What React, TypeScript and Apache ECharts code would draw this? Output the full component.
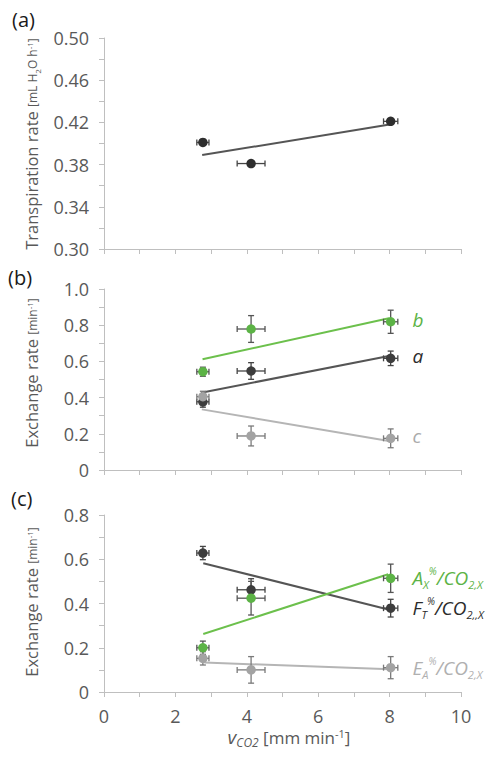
import React, { useEffect, useRef } from 'react';
import * as echarts from 'echarts';

// ---------- data ----------
const xTicks = [0, 2, 4, 6, 8, 10];
const vCO2 = [2.77, 4.12, 8.03];
const vCO2Err = [0.17, 0.39, 0.2];

// (a) transpiration rate
const transpiration = [0.401, 0.381, 0.421];
const transpirationErr = [0, 0, 0];
const transpirationTrend = [[2.75, 0.389], [8.0, 0.418]];
const transpirationBase = 0.3;

// (b) exchange rates a, b, c
const rateA = [0.377, 0.547, 0.617];
const rateAErr = [0.03, 0.046, 0.04];
const rateB = [0.543, 0.779, 0.819];
const rateBErr = [0.025, 0.074, 0.064];
const rateC = [0.405, 0.188, 0.175];
const rateCErr = [0.03, 0.055, 0.052];
const trendA = [[2.72, 0.427], [7.98, 0.63]];
const trendB = [[2.76, 0.612], [7.98, 0.838]];
const trendC = [[2.74, 0.335], [7.98, 0.16]];

// (c) exchange-rate ratios
const ratioAX = [0.2, 0.424, 0.514];
const ratioAXErr = [0.03, 0.076, 0.064];
const ratioFT = [0.628, 0.462, 0.379];
const ratioFTErr = [0.03, 0.05, 0.04];
const ratioEA = [0.152, 0.1, 0.11];
const ratioEAErr = [0.03, 0.06, 0.05];
const trendAX = [[2.78, 0.262], [7.96, 0.532]];
const trendFT = [[2.78, 0.582], [8.02, 0.371]];
const trendEA = [[2.81, 0.133], [8.02, 0.103]];

// ---------- styles ----------
const FONT = 'Open Sans';
const AXIS = '#bfbfbf';
const TXT = '#595959';
const DARK = '#3d3d3d';
const GREEN = '#5cb346';
const GREY = '#a3a3a3';

function errorSeries(gi: number, ys: number[], yErr: number[], color: string) {
  return {
    type: 'custom',
    xAxisIndex: gi,
    yAxisIndex: gi,
    z: 3,
    silent: true,
    encode: { x: 0, y: 1 },
    data: vCO2.map((x, i) => [x, ys[i], vCO2Err[i], yErr[i]]),
    renderItem: (params: any, api: any) => {
      const x = api.value(0), y = api.value(1), dx = api.value(2), dy = api.value(3);
      const c = api.coord([x, y]);
      const l = api.coord([x - dx, y]);
      const r = api.coord([x + dx, y]);
      const cap = 3;
      const st = { stroke: color, lineWidth: 1.3 };
      const children: any[] = [
        { type: 'line', shape: { x1: l[0], y1: c[1], x2: r[0], y2: c[1] }, style: st },
        { type: 'line', shape: { x1: l[0], y1: c[1] - cap, x2: l[0], y2: c[1] + cap }, style: st },
        { type: 'line', shape: { x1: r[0], y1: c[1] - cap, x2: r[0], y2: c[1] + cap }, style: st },
      ];
      if (dy > 0) {
        const t = api.coord([x, y + dy]);
        const b = api.coord([x, y - dy]);
        children.push(
          { type: 'line', shape: { x1: c[0], y1: t[1], x2: c[0], y2: b[1] }, style: st },
          { type: 'line', shape: { x1: c[0] - cap, y1: t[1], x2: c[0] + cap, y2: t[1] }, style: st },
          { type: 'line', shape: { x1: c[0] - cap, y1: b[1], x2: c[0] + cap, y2: b[1] }, style: st },
        );
      }
      return { type: 'group', children };
    },
  };
}

function pointSeries(gi: number, ys: number[], color: string, label?: any) {
  return {
    type: 'scatter',
    xAxisIndex: gi,
    yAxisIndex: gi,
    z: 4,
    symbol: 'circle',
    symbolSize: 9.5,
    itemStyle: { color, opacity: 1 },
    data: vCO2.map((x, i) =>
      label && i === vCO2.length - 1 ? { value: [x, ys[i]], label } : [x, ys[i]]
    ),
  };
}

function trendSeries(gi: number, pts: number[][], color: string) {
  return {
    type: 'line',
    xAxisIndex: gi,
    yAxisIndex: gi,
    z: 2,
    silent: true,
    showSymbol: false,
    symbol: 'none',
    lineStyle: { color, width: 2 },
    data: pts,
  };
}

const simpleLabel = (text: string, color: string) => ({
  show: true,
  position: 'right',
  distance: 17,
  formatter: text,
  color,
  fontFamily: FONT,
  fontStyle: 'italic',
  fontSize: 19,
  offset: [0, -2],
});

const ratioRich = (color: string) => ({
  m: { color, fontFamily: FONT, fontStyle: 'italic', fontSize: 19, lineHeight: 24, verticalAlign: 'middle' },
  sb: { color, fontFamily: FONT, fontStyle: 'italic', fontSize: 11, lineHeight: 11, verticalAlign: 'bottom' },
  sp: { color, fontFamily: FONT, fontStyle: 'italic', fontSize: 10, lineHeight: 14, verticalAlign: 'top' },
});

const ratioLabel = (main: string, sub: string, color: string, tail: string) => ({
  show: true,
  position: 'right',
  distance: 17,
  formatter: `{m|${main}}{sb|${sub}}{sp|%}{m|/CO}{sb|${tail}}`,
  rich: ratioRich(color),
});

function xAxisCfg(gi: number, showLabels: boolean) {
  return {
    type: 'value',
    gridIndex: gi,
    min: xTicks[0],
    max: xTicks[xTicks.length - 1],
    interval: xTicks[1] - xTicks[0],
    axisLine: { show: true, lineStyle: { color: AXIS, width: 1 } },
    axisTick: { show: true, length: 5, lineStyle: { color: AXIS } },
    minorTick: { show: true, splitNumber: 2, length: 5, lineStyle: { color: AXIS } },
    splitLine: { show: false },
    axisLabel: { show: showLabels, color: TXT, fontFamily: FONT, fontSize: 18, margin: 15 },
  };
}

function yAxisCfg(gi: number, max: number, interval: number, fmt: (v: number) => string) {
  return {
    type: 'value',
    gridIndex: gi,
    min: 0,
    max,
    interval,
    axisLine: { show: true, lineStyle: { color: AXIS, width: 1 } },
    axisTick: { show: true, length: 5, lineStyle: { color: AXIS } },
    minorTick: { show: true, splitNumber: 2, length: 5, lineStyle: { color: AXIS } },
    splitLine: { show: false },
    axisLabel: { color: TXT, fontFamily: FONT, fontSize: 18, margin: 15, formatter: fmt },
  };
}

const oneDec = (v: number) => (Math.abs(v) < 1e-9 ? '0' : v.toFixed(1));

// pieces of a composed title: text, font size, baseline shift, italic
type Piece = { t: string; size: number; dy: number; it?: boolean };

const yTitleA: Piece[] = [
  { t: 'Transpiration rate ', size: 16.5, dy: 0 },
  { t: '[mL H', size: 12, dy: 0 },
  { t: '2', size: 8, dy: 3 },
  { t: 'O h', size: 12, dy: 0 },
  { t: '-1', size: 8, dy: -5 },
  { t: ']', size: 12, dy: 0 },
];
const yTitleB: Piece[] = [
  { t: 'Exchange rate ', size: 16.5, dy: 0 },
  { t: '[min', size: 12, dy: 0 },
  { t: '-1', size: 8, dy: -5 },
  { t: ']', size: 12, dy: 0 },
];
const xTitle: Piece[] = [
  { t: 'v', size: 19, dy: 0, it: true },
  { t: 'CO2', size: 12, dy: 3, it: true },
  { t: ' [mm min', size: 17, dy: 0 },
  { t: '-1', size: 11, dy: -7 },
  { t: ']', size: 17, dy: 0 },
];

function composed(pieces: Piece[], x: number, y: number, rotation: number, color: string) {
  const ctx = document.createElement('canvas').getContext('2d')!;
  const widths = pieces.map((p) => {
    ctx.font = `${p.it ? 'italic ' : ''}${p.size}px "${FONT}"`;
    return ctx.measureText(p.t).width;
  });
  const total = widths.reduce((a, b) => a + b, 0);
  let cx = -total / 2;
  const children = pieces.map((p, i) => {
    const el = {
      type: 'text',
      x: cx,
      y: p.dy - 0.36 * p.size,
      style: {
        text: p.t,
        fontSize: p.size,
        fontFamily: FONT,
        fontStyle: p.it ? 'italic' : 'normal',
        fill: color,
        align: 'left',
        verticalAlign: 'middle',
      },
    };
    cx += widths[i];
    return el;
  });
  return { type: 'group', x, y, rotation, children };
}

const panelLabel = (text: string, x: number, y: number) => ({
  type: 'text',
  x,
  y,
  style: { text, fill: '#1a1a1a', fontFamily: FONT, fontSize: 20, align: 'left', verticalAlign: 'middle' },
});

export default function App() {
  const ref = useRef<HTMLDivElement>(null);

  useEffect(() => {
    document.body.style.margin = '0';
    const chart = echarts.init(ref.current!, undefined, { renderer: 'svg' });
    const shifted = transpiration.map((v) => v - transpirationBase);
    const shiftedTrend = transpirationTrend.map((p) => [p[0], p[1] - transpirationBase]);

    chart.setOption({
      animation: false,
      backgroundColor: '#ffffff',
      grid: [
        { left: 104, width: 357, top: 38, height: 211 },
        { left: 104, width: 357, top: 289, height: 181 },
        { left: 104, width: 357, top: 515, height: 177 },
      ],
      xAxis: [xAxisCfg(0, false), xAxisCfg(1, false), xAxisCfg(2, true)],
      yAxis: [
        yAxisCfg(0, 0.2, 0.04, (v: number) => (v + transpirationBase).toFixed(2)),
        yAxisCfg(1, 1.0, 0.2, oneDec),
        yAxisCfg(2, 0.8, 0.2, oneDec),
      ],
      series: [
        // (a)
        trendSeries(0, shiftedTrend, '#555555'),
        errorSeries(0, shifted, transpirationErr, '#444444'),
        pointSeries(0, shifted, '#2e2e2e'),
        // (b)
        trendSeries(1, trendB, '#6cc04c'),
        trendSeries(1, trendA, '#555555'),
        trendSeries(1, trendC, '#b5b5b5'),
        errorSeries(1, rateB, rateBErr, '#555555'),
        errorSeries(1, rateA, rateAErr, '#444444'),
        errorSeries(1, rateC, rateCErr, '#7a7a7a'),
        pointSeries(1, rateB, GREEN, simpleLabel('b', GREEN)),
        pointSeries(1, rateA, DARK, simpleLabel('a', '#2b2b2b')),
        pointSeries(1, rateC, GREY, simpleLabel('c', '#aaaaaa')),
        // (c)
        trendSeries(2, trendFT, '#555555'),
        trendSeries(2, trendAX, '#6cc04c'),
        trendSeries(2, trendEA, '#b5b5b5'),
        errorSeries(2, ratioFT, ratioFTErr, '#444444'),
        errorSeries(2, ratioAX, ratioAXErr, '#555555'),
        errorSeries(2, ratioEA, ratioEAErr, '#7a7a7a'),
        pointSeries(2, ratioFT, DARK, ratioLabel('F', 'T', '#2b2b2b', '2,,X')),
        pointSeries(2, ratioAX, GREEN, ratioLabel('A', 'X', GREEN, '2,X')),
        pointSeries(2, ratioEA, GREY, ratioLabel('E', 'A', '#b0b0b0', '2,X')),
      ],
      graphic: [
        panelLabel('(a)', 12, 19),
        panelLabel('(b)', 8, 277),
        panelLabel('(c)', 11, 498),
        composed(yTitleA, 37, 144, Math.PI / 2, TXT),
        composed(yTitleB, 37, 373, Math.PI / 2, TXT),
        composed(yTitleB, 37, 602, Math.PI / 2, TXT),
        composed(xTitle, 289, 744, 0, TXT),
      ],
    });
    return () => chart.dispose();
  }, []);

  return (
    <div
      ref={ref}
      style={{ position: 'absolute', left: 0, top: 0, width: 488, height: 760, background: '#fff' }}
    />
  );
}
